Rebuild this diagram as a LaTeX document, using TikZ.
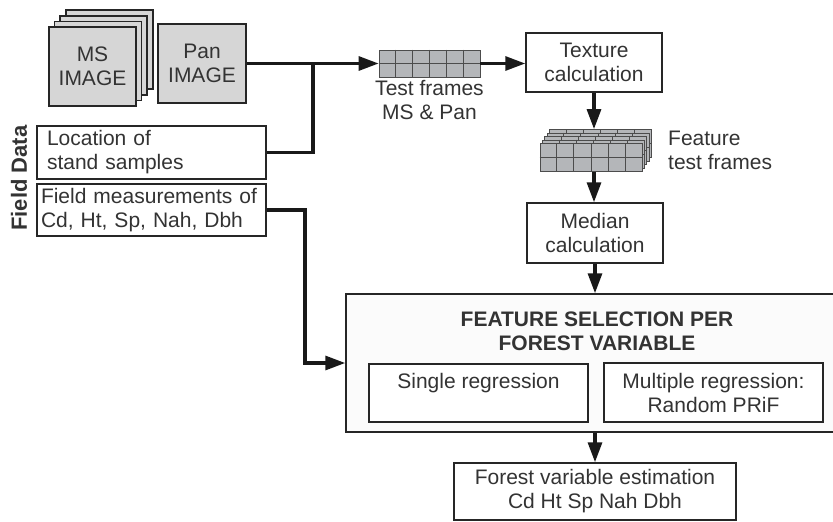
\documentclass[tikz,border=0pt]{standalone}
\usepackage{fontspec}
\setmainfont{Liberation Sans}
\usepackage{xcolor}
\usepackage{tikz}
\usetikzlibrary{arrows.meta, positioning, calc}
\definecolor{txtgray}{HTML}{333333}
\definecolor{sheetgray}{HTML}{D6D6D6}
\definecolor{cellgray}{HTML}{B4B6B9}
\definecolor{panelgray}{HTML}{FBFBFB}

\begin{document}
\begin{tikzpicture}[x=1pt, y=-1pt, >={Triangle[length=20pt, width=14pt]},
  font=\fontsize{21}{24}\selectfont, text=txtgray,
  box/.style={draw=black!85, line width=1.5pt, fill=white, align=center, inner sep=0pt},
  sheet/.style={box, fill=sheetgray, minimum width=87pt, minimum height=79pt},
  leftbox/.style={box, align=left, text width=209pt, inner xsep=10pt, minimum height=53pt},
  cellgrid/.style={draw=black!70, line width=0.8pt, fill=cellgray, minimum width=102pt, minimum height=28pt, inner sep=0pt},
  conn/.style={line width=3.2pt, black!90}]
  \useasboundingbox (0,0) rectangle (833,522);
  \clip (0,0) rectangle (833,522);

  % Bilder
  \foreach \k in {3,2,1}
    \node[sheet] (ms\k) at ({92.5+5.6*\k},{66.5-5.6*\k}) {};
  \node[sheet] (ms) at (92.5,66.5) {MS\\IMAGE};
  \node[sheet, minimum width=88pt] (pan) at (202,63.5) {Pan\\IMAGE};

  % Field Data
  \node[leftbox] (loc) at (151.5,152.5) {Location of\\stand samples};
  \node[leftbox, text width=221pt, inner xsep=4pt, minimum height=52pt] (meas) at (151.5,210) {Field measurements of\\Cd, Ht, Sp, Nah, Dbh};
  \node[rotate=90, font=\fontsize{22}{24}\selectfont\bfseries] (fielddata) at (19,178) {Field Data};

  % Test frames
  \node[cellgrid, minimum width=101pt, minimum height=27pt] (frames) at (429.5,63.5) {};
  \foreach \i in {1,...,5}
    \draw[black!70, line width=0.8pt] ($(frames.north west)!\i/6!(frames.north east)$) -- ($(frames.south west)!\i/6!(frames.south east)$);
  \draw[black!70, line width=0.8pt] (frames.west) -- (frames.east);
  \node[below=3pt of frames, align=center, inner sep=0pt] (frameslbl) {Test frames\\MS \& Pan};

  \node[box, minimum width=136pt, minimum height=59pt] (texture) at (594,62.5) {Texture\\calculation};

  % Feature test frames
  \foreach \k in {4,...,0} {
    \node[cellgrid] (layer\k) at ({591+2.3*\k},{157.5-3.5*\k}) {};
    \foreach \i in {1,...,5}
      \draw[black!70, line width=0.8pt] ($(layer\k.north west)!\i/6!(layer\k.north east)$) -- ($(layer\k.south west)!\i/6!(layer\k.south east)$);
    \draw[black!70, line width=0.8pt] (layer\k.west) -- (layer\k.east);
  }
  \node[anchor=west, align=left, inner sep=0pt] (featlbl) at (668,150) {Feature\\test frames};

  \node[box, minimum width=136pt, minimum height=60pt] (median) at (595,233) {Median\\calculation};

  % Feature selection
  \node[box, fill=panelgray, minimum width=502pt, minimum height=138pt] (select) at (597,363) {};
  \node[font=\fontsize{21}{24}\selectfont\bfseries, align=center] (seltitle) at (597,331) {FEATURE SELECTION PER\\FOREST VARIABLE};
  \node[box, minimum width=219pt, minimum height=58pt] (single) at (478.5,393) {Single regression\\\mbox{}};
  \node[box, minimum width=219pt, minimum height=59pt] (multi) at (713.5,392.5) {Multiple regression:\\Random PRiF};

  \node[box, minimum width=282pt, minimum height=57pt] (estim) at (595,491.5) {Forest variable estimation\\Cd Ht Sp Nah Dbh};

  % Verbindungen
  \coordinate (jn) at (313,63.5);
  \coordinate (jm) at (305,363);
  \draw[conn,->] (pan.east) -- (frames.west);
  \draw[conn] (loc.east) -| (jn);
  \draw[conn,->] (frames.east) -- (frames.east -| texture.west);
  \draw[conn,->] (texture.south) -- (texture.south |- layer4.north);
  \draw[conn,->] (layer0.south -| texture.south) -- (texture.south |- median.north);
  \draw[conn,->] (median.south) -- (median.south |- select.north);
  \draw[conn,->] (select.south -| estim.north) -- (estim.north);
  \draw[conn,->] (meas.east) -| (jm) -- (select.west |- jm);
\end{tikzpicture}
\end{document}
